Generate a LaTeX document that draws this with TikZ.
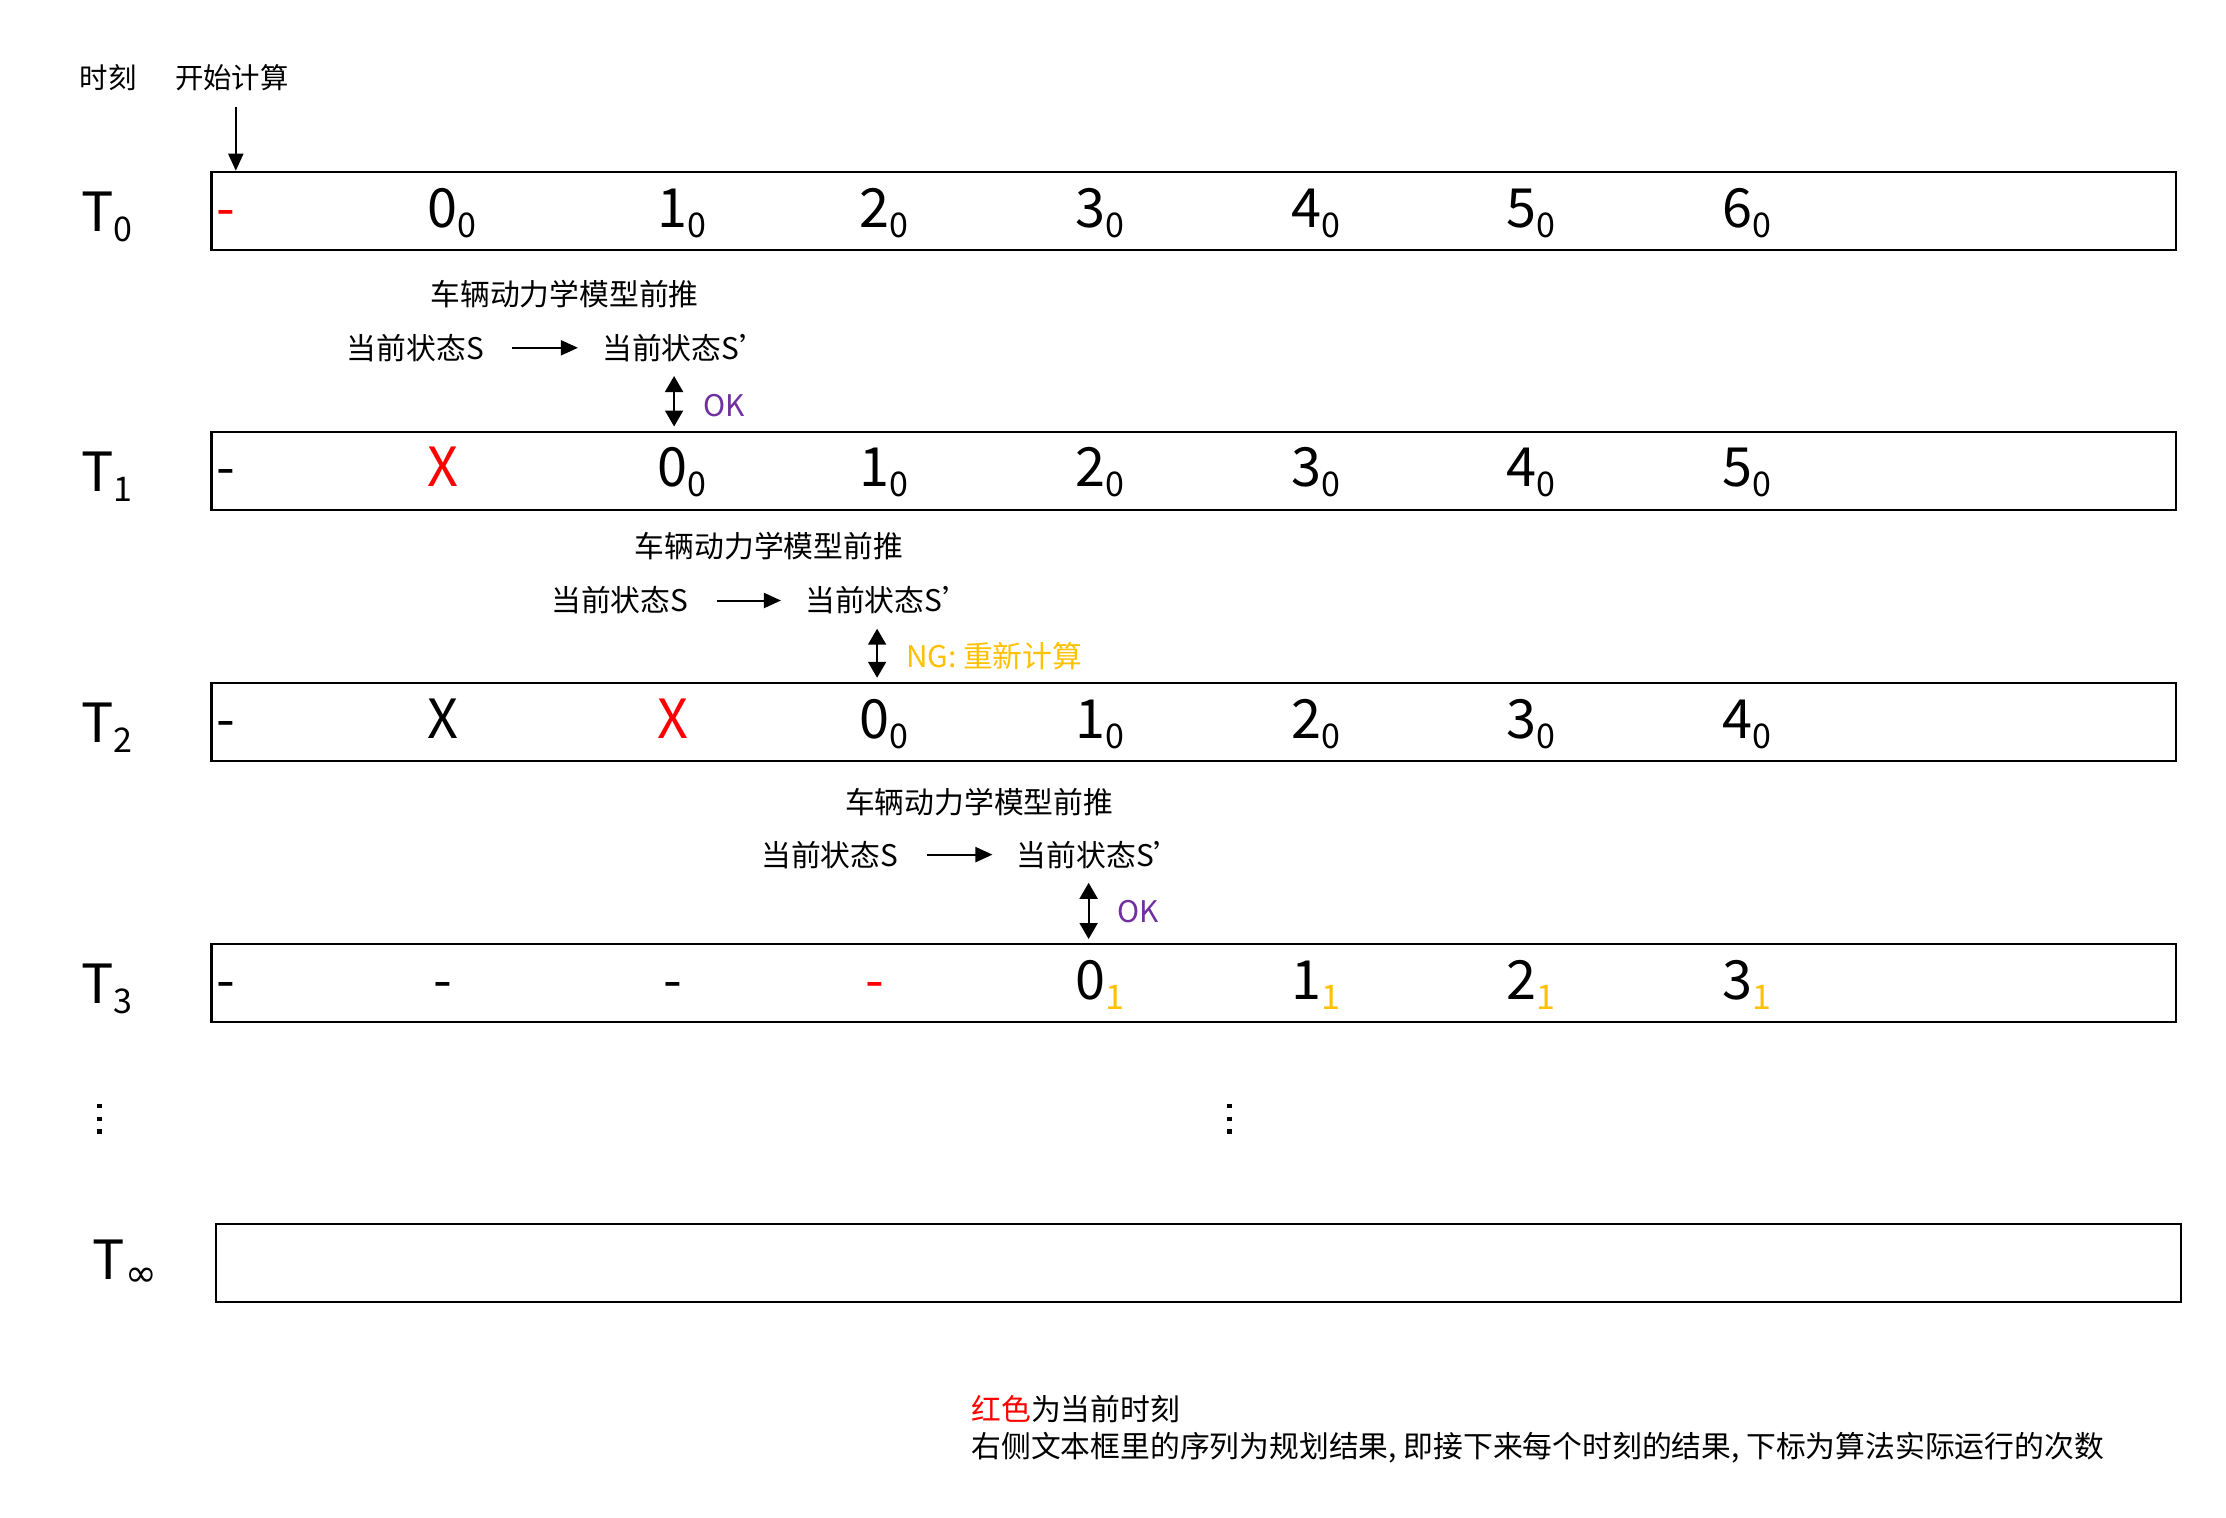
\documentclass[tikz,border=0pt]{standalone}
\usepackage{fontspec}
\setmainfont{Noto Sans CJK SC}
\newfontfamily\symfont{DejaVu Sans}
\usetikzlibrary{arrows.meta}
\definecolor{myred}{RGB}{255,0,0}
\definecolor{okpurple}{RGB}{112,48,160}
\definecolor{nggold}{RGB}{255,192,0}
\newcommand\bigf{\fontsize{27}{27}\selectfont}
\newcommand\subf{\fontsize{17}{17}\selectfont}
\newcommand\dsub[3]{#1\rlap{\raisebox{-5pt}{\subf\color{#3}#2}}}
\newcommand\myquote{\makebox[0.22em][l]{’}}
\begin{document}
\begin{tikzpicture}[x=0.7098pt,y=-0.7098pt,
  rowbox/.style={draw, line width=1.1pt, minimum width=982.4pt, minimum height=39pt, inner sep=0},
  lbl/.style={anchor=west, inner sep=0, font=\fontsize{14.9}{17}\selectfont},
  cellt/.style={anchor=base, inner sep=0, font=\bigf},
  tlab/.style={anchor=base west, inner sep=0, font=\bigf},
  arr/.style={line width=1pt, -{Triangle[length=8.5pt,width=7.5pt]}},
  darr/.style={line width=1pt, {Triangle[length=8pt,width=9pt]}-{Triangle[length=8pt,width=9pt]}}
]
\useasboundingbox (0,0) rectangle (1568,1069);
% header
\node[lbl, font=\fontsize{14.2}{17}\selectfont] (shike) at (56,55) {时刻};
\node[lbl, font=\fontsize{14.2}{17}\selectfont] (start) at (123,55) {开始计算};
% boxes
\node[rowbox] (b0) at (841,148.5) {};
\node[rowbox] (b1) at (841,331.5) {};
\node[rowbox] (b2) at (841,508.5) {};
\node[rowbox] (b3) at (841,692.5) {};
\node[rowbox] (binf) at (844,889.5) {};
\draw[arr, shorten <=7.5pt] ([xshift=2pt]start.south) -- ([xshift=2pt]start.south |- b0.north);
% T labels
\node[tlab] (t0) at (57,163) {T\rlap{\raisebox{-5pt}{\subf 0}}};
\node[tlab] (t1) at (57,346) {T\rlap{\raisebox{-5pt}{\subf 1}}};
\node[tlab] (t2) at (57,523) {T\rlap{\raisebox{-5pt}{\subf 2}}};
\node[tlab] (t3) at (57,707) {T\rlap{\raisebox{-5pt}{\subf 3}}};
\node[tlab] (tinf) at (65,901) {T\rlap{\raisebox{-3.5pt}{\symfont\fontsize{19}{19}\selectfont ∞}}};
% row 0
\node[cellt, text=myred] (r0c0) at (159,160) {-};
\foreach \x/\n [count=\k] in {312/0,474/1,616/2,768/3,920/4,1072/5,1224/6}
  \node[cellt] (r0c\k) at (\x,160) {\dsub{\n}{0}{black}};
% row 1
\node[cellt] (r1c0) at (159,343) {-};
\node[cellt, text=myred] (r1c1) at (312,343) {X};
\foreach \x/\n [count=\k from 2] in {474/0,616/1,768/2,920/3,1072/4,1224/5}
  \node[cellt] (r1c\k) at (\x,343) {\dsub{\n}{0}{black}};
% row 2
\node[cellt] (r2c0) at (159,520) {-};
\node[cellt] (r2c1) at (312,520) {X};
\node[cellt, text=myred] (r2c2) at (474,520) {X};
\foreach \x/\n [count=\k from 3] in {616/0,768/1,920/2,1072/3,1224/4}
  \node[cellt] (r2c\k) at (\x,520) {\dsub{\n}{0}{black}};
% row 3
\node[cellt] (r3c0) at (159,704) {-};
\node[cellt] (r3c1) at (312,704) {-};
\node[cellt] (r3c2) at (474,704) {-};
\node[cellt, text=myred] (r3c3) at (616,704) {-};
\foreach \x/\n [count=\k from 4] in {768/0,920/1,1072/2,1224/3}
  \node[cellt] (r3c\k) at (\x,704) {\dsub{\n}{1}{nggold}};
% annotations step 1
\node[lbl] (m1) at (303,207) {车辆动力学模型前推};
\node[lbl] (sa1) at (244,245) {当前状态S};
\node[lbl] (sb1) at (424,245) {当前状态S\myquote};
\draw[arr, shorten <=14pt, shorten >=12pt] (sa1.east) -- (sb1.west);
\draw[darr, shorten <=7pt, shorten >=2pt] (sb1.south) -- (sb1.south |- b1.north);
\node[lbl, text=okpurple] (ok1) at (495,286) {OK};
% annotations step 2
\node[lbl] (m2) at (447,385) {车辆动力学模型前推};
\node[lbl] (sa2) at (388,423) {当前状态S};
\node[lbl] (sb2) at (567,423) {当前状态S\myquote};
\draw[arr, shorten <=14pt, shorten >=12pt] (sa2.east) -- (sb2.west);
\draw[darr, shorten <=7pt, shorten >=2pt] (sb2.south) -- (sb2.south |- b2.north);
\node[lbl, text=nggold] (ng2) at (638,462) {NG: 重新计算};
% annotations step 3
\node[lbl] (m3) at (595,565) {车辆动力学模型前推};
\node[lbl] (sa3) at (536,602) {当前状态S};
\node[lbl] (sb3) at (716,602) {当前状态S\myquote};
\draw[arr, shorten <=14pt, shorten >=12pt] (sa3.east) -- (sb3.west);
\draw[darr, shorten <=7pt, shorten >=2pt] (sb3.south) -- (sb3.south |- b3.north);
\node[lbl, text=okpurple] (ok3) at (787,642) {OK};
% vertical dots
\foreach \y in {779,788,797} {
  \fill (68.5,\y-1.5) rectangle ++(3,3);
  \fill (864.5,\y-1.5) rectangle ++(3,3);
}
% legend
\node[lbl, align=left, font=\fontsize{14.9}{18.5}\selectfont] (legend) at (684,1007)
  {{\color{myred}红色}为当前时刻\\右侧文本框里的序列为规划结果, 即接下来每个时刻的结果, 下标为算法实际运行的次数};
\end{tikzpicture}
\end{document}
